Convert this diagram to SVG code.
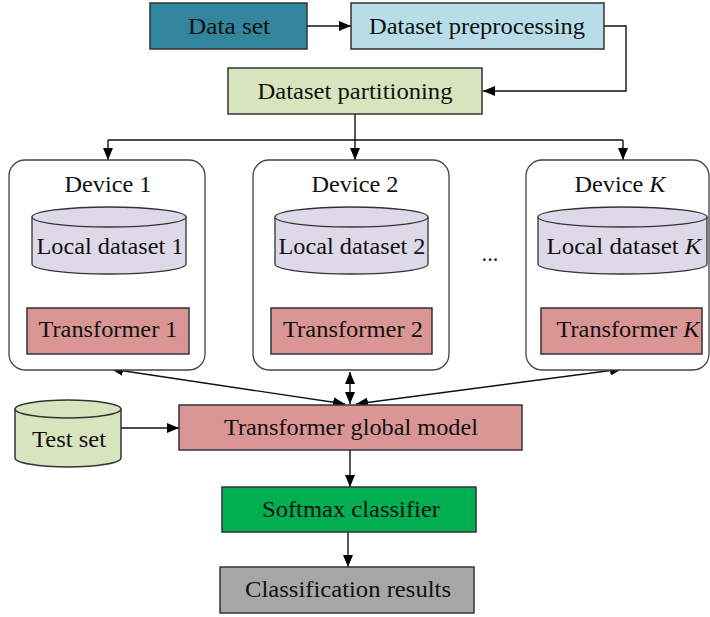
<svg xmlns="http://www.w3.org/2000/svg" width="710" height="617" viewBox="0 0 710 617">
<defs>
<style>
.t{font-family:"Liberation Serif","Times New Roman",serif;font-size:22.5px;fill:#111;text-anchor:middle}
.b{stroke:#333;stroke-width:1.5}
.dev{fill:#fff;stroke:#444;stroke-width:1.3}
.cyl{fill:#DDD9E8;stroke:#333;stroke-width:1.3}
.tr{fill:#D99694;stroke:#333;stroke-width:1.5}
.c{fill:none;stroke:#111;stroke-width:1.4}
</style>
<marker id="ah" viewBox="0 0 12 10" refX="12" refY="5" markerWidth="12" markerHeight="10" markerUnits="userSpaceOnUse" orient="auto-start-reverse">
<path d="M0,0 L12,5 L0,10 z" fill="#000"/>
</marker>
</defs>
<rect width="710" height="617" fill="#fff"/>

<g id="connectors">
<line class="c" x1="307" y1="26" x2="351" y2="26" marker-end="url(#ah)"/>
<polyline class="c" points="604,26 626,26 626,91 483,91" marker-end="url(#ah)"/>
<line class="c" x1="355" y1="114" x2="355" y2="140"/>
<line class="c" x1="108" y1="140" x2="623" y2="140"/>
<line class="c" x1="108" y1="140" x2="108" y2="160" marker-end="url(#ah)"/>
<line class="c" x1="355" y1="140" x2="355" y2="160" marker-end="url(#ah)"/>
<line class="c" x1="623" y1="140" x2="623" y2="160" marker-end="url(#ah)"/>
<line class="c" x1="345" y1="404" x2="111" y2="369" marker-start="url(#ah)" marker-end="url(#ah)"/>
<line class="c" x1="356" y1="404" x2="622" y2="369" marker-start="url(#ah)" marker-end="url(#ah)"/>
<line class="c" x1="350" y1="372" x2="350" y2="404" marker-start="url(#ah)" marker-end="url(#ah)"/>
<line class="c" x1="121" y1="428" x2="179" y2="428" marker-end="url(#ah)"/>
<line class="c" x1="350" y1="450" x2="350" y2="487" marker-end="url(#ah)"/>
<line class="c" x1="348" y1="532" x2="348" y2="567" marker-end="url(#ah)"/>
</g>

<g id="dataset">
<rect class="b" x="150" y="3" width="157" height="46" fill="#31859C"/>
<text class="t" x="229" y="34" textLength="82" lengthAdjust="spacingAndGlyphs">Data set</text>
</g>
<g id="preprocessing">
<rect class="b" x="351" y="3" width="253" height="46" fill="#B7DEE8"/>
<text class="t" x="477" y="34" textLength="216" lengthAdjust="spacingAndGlyphs">Dataset preprocessing</text>
</g>
<g id="partitioning">
<rect class="b" x="228" y="68" width="254" height="46" fill="#D7E4BD"/>
<text class="t" x="355" y="99" textLength="195" lengthAdjust="spacingAndGlyphs">Dataset partitioning</text>
</g>

<g id="device1">
<rect class="dev" x="9" y="160" width="196" height="210" rx="16"/>
<text class="t" x="108" y="192" textLength="87" lengthAdjust="spacingAndGlyphs">Device 1</text>
<path class="cyl" d="M32,217 V264 A77,10 0 0 0 186,264 V217"/>
<ellipse class="cyl" cx="109" cy="217" rx="77" ry="10"/>
<text class="t" x="110" y="254" textLength="147" lengthAdjust="spacingAndGlyphs">Local dataset 1</text>
<rect class="tr" x="27" y="308" width="162" height="46"/>
<text class="t" x="108" y="337" textLength="139" lengthAdjust="spacingAndGlyphs">Transformer 1</text>
</g>

<g id="device2">
<rect class="dev" x="253" y="160" width="196" height="210" rx="16"/>
<text class="t" x="355" y="192" textLength="87" lengthAdjust="spacingAndGlyphs">Device 2</text>
<path class="cyl" d="M275,217 V264 A76.5,10 0 0 0 428,264 V217"/>
<ellipse class="cyl" cx="351.5" cy="217" rx="76.5" ry="10"/>
<text class="t" x="352" y="254" textLength="147" lengthAdjust="spacingAndGlyphs">Local dataset 2</text>
<rect class="tr" x="271" y="308" width="161" height="46"/>
<text class="t" x="353" y="337" textLength="140" lengthAdjust="spacingAndGlyphs">Transformer 2</text>
</g>

<g id="ellipsis">
<text class="t" x="490" y="261">...</text>
</g>

<g id="deviceK">
<rect class="dev" x="526" y="160" width="183" height="210" rx="16"/>
<text class="t" x="620" y="192" textLength="91" lengthAdjust="spacingAndGlyphs">Device <tspan font-style="italic">K</tspan></text>
<path class="cyl" d="M538,217 V264 A84.5,10 0 0 0 707,264 V217"/>
<ellipse class="cyl" cx="622.5" cy="217" rx="84.5" ry="10"/>
<text class="t" x="624" y="254" textLength="155" lengthAdjust="spacingAndGlyphs">Local dataset <tspan font-style="italic">K</tspan></text>
<rect class="tr" x="541" y="308" width="161" height="46"/>
<text class="t" x="628" y="337" textLength="143" lengthAdjust="spacingAndGlyphs">Transformer <tspan font-style="italic">K</tspan></text>
</g>

<g id="testset">
<path class="b" fill="#D7E4BD" d="M15,409 V458 A53,9 0 0 0 121,458 V409"/>
<ellipse class="b" fill="#D7E4BD" cx="68" cy="409" rx="53" ry="9"/>
<text class="t" x="69" y="447" textLength="74" lengthAdjust="spacingAndGlyphs">Test set</text>
</g>

<g id="global">
<rect class="tr" x="179" y="405" width="343" height="45"/>
<text class="t" x="351" y="435" textLength="254" lengthAdjust="spacingAndGlyphs">Transformer global model</text>
</g>
<g id="softmax">
<rect class="b" x="222" y="487" width="254" height="45" fill="#00B050"/>
<text class="t" x="351" y="517" textLength="178" lengthAdjust="spacingAndGlyphs">Softmax classifier</text>
</g>
<g id="results">
<rect class="b" x="220" y="567" width="254" height="46" fill="#A6A6A6"/>
<text class="t" x="348" y="597" textLength="206" lengthAdjust="spacingAndGlyphs">Classification results</text>
</g>
</svg>
